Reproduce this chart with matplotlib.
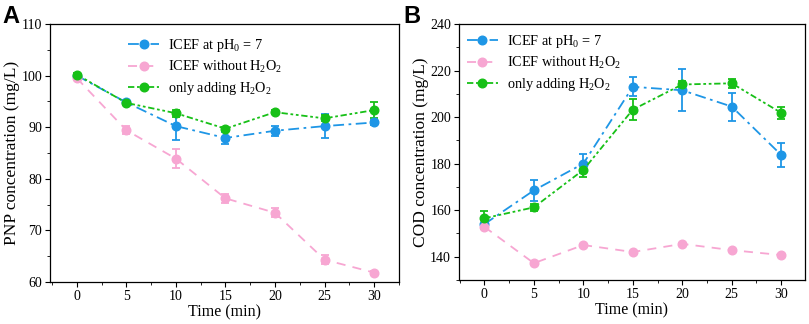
import matplotlib
matplotlib.use("Agg")
import matplotlib.pyplot as plt
from matplotlib.ticker import MultipleLocator

time = [0, 5, 10, 15, 20, 25, 30]

# Panel A: PNP concentration (mg/L)
pnp_ph7 = [100.0, 94.8, 90.2, 87.9, 89.3, 90.2, 90.9]
pnp_ph7_err = [0.3, 0.4, 2.7, 1.1, 1.0, 2.4, 0.5]
pnp_noh2o2 = [99.5, 89.4, 83.9, 76.2, 73.4, 64.3, 61.8]
pnp_noh2o2_err = [0.3, 0.8, 1.8, 0.9, 0.9, 0.9, 0.3]
pnp_h2o2 = [100.2, 94.7, 92.7, 89.7, 92.9, 91.7, 93.3]
pnp_h2o2_err = [0.3, 0.4, 0.7, 0.4, 0.4, 0.6, 1.6]

# Panel B: COD concentration (mg/L)
cod_ph7 = [154.0, 168.5, 180.0, 213.0, 211.5, 204.5, 183.7]
cod_ph7_err = [2.0, 4.5, 4.0, 4.0, 9.0, 6.0, 5.0]
cod_noh2o2 = [152.8, 137.2, 145.0, 142.0, 145.5, 142.8, 140.7]
cod_noh2o2_err = [0.6, 0.5, 0.5, 0.5, 0.5, 0.5, 0.5]
cod_h2o2 = [156.5, 161.2, 177.3, 203.2, 214.0, 214.5, 201.8]
cod_h2o2_err = [3.0, 1.5, 3.0, 4.5, 1.5, 2.0, 2.5]

labels = ["ICEF at pH$_0$ = 7", "ICEF without H$_2$O$_2$", "only adding H$_2$O$_2$"]
colors = ["#1E96E6", "#F7A6D2", "#17C017"]
styles = [(0, (6, 2.5, 1.5, 2.5)), (0, (5, 4)), (0, (3.5, 1.5, 1.5, 1.5, 1.5, 1.5))]

plt.rcParams["font.family"] = ["Liberation Serif", "DejaVu Serif"]
plt.rcParams["mathtext.fontset"] = "custom"
plt.rcParams["mathtext.rm"] = "Liberation Serif"
plt.rcParams["mathtext.it"] = "Liberation Serif:italic"

fig = plt.figure(figsize=(8.09, 3.24), dpi=100)
axA = fig.add_axes([0.0618, 0.130, 0.4312, 0.796])
axB = fig.add_axes([0.567, 0.136, 0.428, 0.790])


def draw(ax, series, errs):
    for y, e, lab, c, ls in zip(series, errs, labels, colors, styles):
        ax.errorbar(time, y, yerr=e, fmt="none", ecolor=c, capsize=3,
                    elinewidth=1.3, capthick=1.3, zorder=2)
        ax.plot(time, y, color=c, linestyle=ls, linewidth=1.3, marker="o",
                markersize=6.2, markerfacecolor=c, markeredgecolor=c,
                label=lab, zorder=3)
    ax.xaxis.set_major_locator(MultipleLocator(5))
    ax.xaxis.set_minor_locator(MultipleLocator(2.5))
    ax.tick_params(which="both", direction="out", top=False, right=False,
                   labelsize=10, pad=2)
    ax.tick_params(which="major", length=3.5)
    ax.tick_params(which="minor", length=2)
    ax.set_xlabel("Time (min)", fontsize=11.5, labelpad=1)
    for s in ax.spines.values():
        s.set_linewidth(0.9)


legend_kw = dict(frameon=False, fontsize=10.3, handlelength=2.2,
                 handletextpad=0.6, labelspacing=0.35, borderpad=0,
                 borderaxespad=0)

draw(axA, [pnp_ph7, pnp_noh2o2, pnp_h2o2],
     [pnp_ph7_err, pnp_noh2o2_err, pnp_h2o2_err])
axA.set_xlim(-2.7, 32.5)
axA.set_ylim(60, 110)
axA.yaxis.set_major_locator(MultipleLocator(10))
axA.yaxis.set_minor_locator(MultipleLocator(5))
axA.set_ylabel("PNP concentration (mg/L)", fontsize=12.5, labelpad=1)
axA.legend(loc="upper left", bbox_to_anchor=(0.223, 0.95), **legend_kw)

draw(axB, [cod_ph7, cod_noh2o2, cod_h2o2],
     [cod_ph7_err, cod_noh2o2_err, cod_h2o2_err])
axB.set_xlim(-2.6, 32.4)
axB.set_ylim(130, 240)
axB.yaxis.set_major_locator(MultipleLocator(20))
axB.yaxis.set_minor_locator(MultipleLocator(10))
axB.set_ylabel("COD concentration (mg/L)", fontsize=12.5, labelpad=1)
axB.legend(loc="upper left", bbox_to_anchor=(0.023, 0.965), **legend_kw)

fig.text(0.003, 0.985, "A", fontsize=17, fontweight="bold",
         family="Liberation Sans", va="top", ha="left")
fig.text(0.498, 0.985, "B", fontsize=17, fontweight="bold",
         family="Liberation Sans", va="top", ha="left")

fig.savefig("out.png", dpi=100)
